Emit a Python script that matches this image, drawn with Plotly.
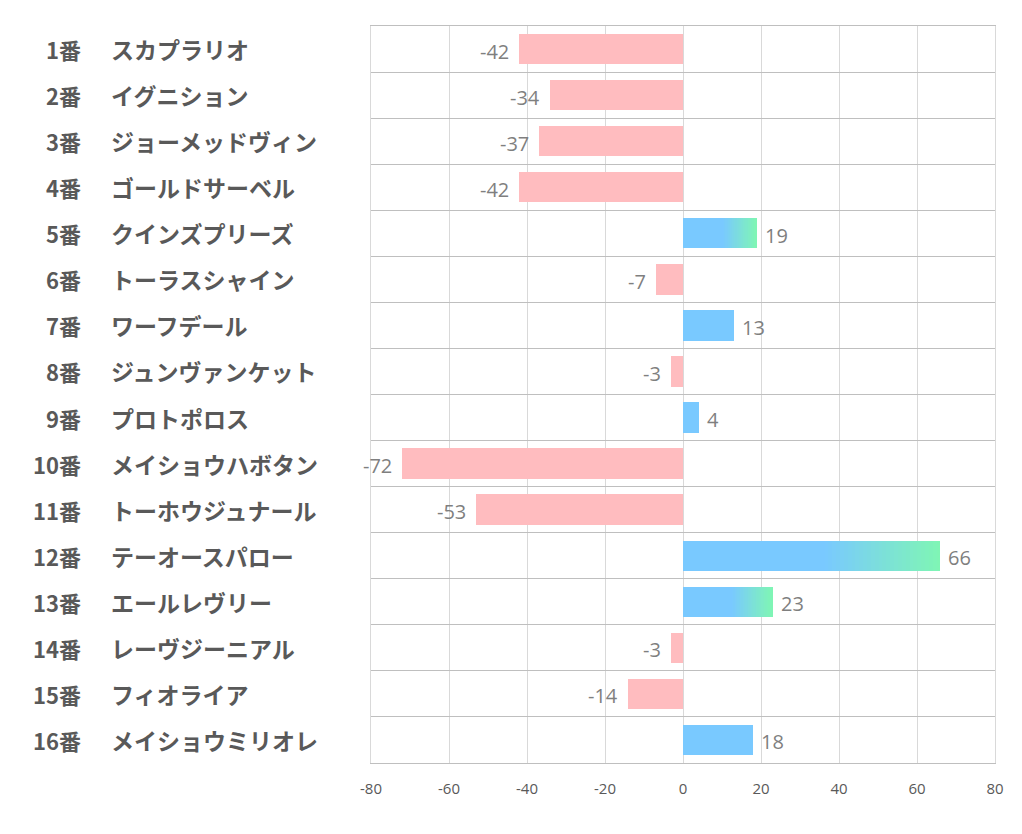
import plotly.graph_objects as go

numbers = ["1番", "2番", "3番", "4番", "5番", "6番", "7番", "8番",
           "9番", "10番", "11番", "12番", "13番", "14番", "15番", "16番"]
names = ["スカプラリオ", "イグニション", "ジョーメッドヴィン", "ゴールドサーベル",
         "クインズプリーズ", "トーラスシャイン", "ワーフデール", "ジュンヴァンケット",
         "プロトポロス", "メイショウハボタン", "トーホウジュナール", "テーオースパロー",
         "エールレヴリー", "レーヴジーニアル", "フィオライア", "メイショウミリオレ"]
values = [-42, -34, -37, -42, 19, -7, 13, -3, 4, -72, -53, 66, 23, -3, -14, 18]
x_ticks = [-80, -60, -40, -20, 0, 20, 40, 60, 80]

PINK = "#ffbcbf"
BLUE = (121, 201, 255)
GREEN = (127, 246, 180)
GRAD_THRESHOLD = 19
GRAD_START = 0.55
N_SEG = 30
BAR_W = 0.66

# page offset (body margin) compensation
OFF = 8
W, H = 1022, 834
L, R, T, B = 371 - OFF, 995 - OFF, 26 - OFF, 763 - OFF

ypos = list(range(len(values)))
colors = [PINK if v < 0 else "rgb(%d,%d,%d)" % BLUE for v in values]

fig = go.Figure()
fig.add_trace(go.Bar(
    y=ypos, x=values, orientation="h", width=BAR_W,
    marker=dict(color=colors, line=dict(width=0)),
    hoverinfo="skip", showlegend=False,
))

# gradient overlay segments for highlighted positive bars
for i, v in enumerate(values):
    if v >= GRAD_THRESHOLD:
        start = v * GRAD_START
        seg = (v - start) / N_SEG
        bases, lens, cols = [], [], []
        for k in range(N_SEG):
            t = (k + 0.5) / N_SEG
            c = tuple(int(round(BLUE[j] + (GREEN[j] - BLUE[j]) * t)) for j in range(3))
            bases.append(start + k * seg)
            lens.append(seg * 1.02 if k < N_SEG - 1 else seg)
            cols.append("rgb(%d,%d,%d)" % c)
        fig.add_trace(go.Bar(
            y=[i] * N_SEG, x=lens, base=bases, orientation="h", width=BAR_W,
            marker=dict(color=cols, line=dict(width=0)),
            hoverinfo="skip", showlegend=False,
        ))

annotations = []
num_font = dict(size=22, color="#595959", family="Noto Sans CJK JP")
name_font = dict(size=23, color="#595959", family="Noto Sans CJK JP")
for i, (n, nm) in enumerate(zip(numbers, names)):
    annotations.append(dict(
        x=(83 - OFF - L) / (R - L), y=i, xref="paper", yref="y", text="<b>%s</b>" % n,
        showarrow=False, xanchor="right", yanchor="middle", font=num_font,
    ))
    annotations.append(dict(
        x=(109 - OFF - L) / (R - L), y=i, xref="paper", yref="y", text="<b>%s</b>" % nm,
        showarrow=False, xanchor="left", yanchor="middle", font=name_font,
    ))
# value labels
for i, v in enumerate(values):
    annotations.append(dict(
        x=v, y=i, xref="x", yref="y", text=str(v), showarrow=False,
        xanchor="right" if v < 0 else "left", yanchor="middle",
        xshift=-8 if v < 0 else 6, yshift=-2,
        font=dict(size=20, color="#7f7f7f", family="Open Sans, Noto Sans, sans-serif"),
    ))

fig.update_layout(
    width=W, height=H,
    margin=dict(l=L, r=W - R, t=T, b=H - B),
    paper_bgcolor="white", plot_bgcolor="white",
    barmode="overlay", bargap=0,
    annotations=annotations,
    font=dict(family="Noto Sans CJK JP"),
    xaxis=dict(
        range=[-80, 80], tickmode="array", tickvals=x_ticks,
        ticktext=[str(t) for t in x_ticks],
        showgrid=True, gridcolor="#d9d9d9", gridwidth=1,
        zeroline=False, showline=True, mirror=True, linecolor="#bfbfbf", linewidth=1,
        ticks="outside", ticklen=12, tickcolor="rgba(0,0,0,0)",
        tickfont=dict(size=15, color="#595959", family="Open Sans, Noto Sans, sans-serif"),
        fixedrange=True,
    ),
    yaxis=dict(
        range=[15.5, -0.5], tickmode="linear", tick0=-0.5, dtick=1,
        showgrid=True, gridcolor="#bfbfbf", gridwidth=1,
        showticklabels=False, zeroline=False,
        showline=True, mirror=True, linecolor="#d9d9d9", linewidth=1,
        fixedrange=True,
    ),
)

fig.write_html("out.html")
